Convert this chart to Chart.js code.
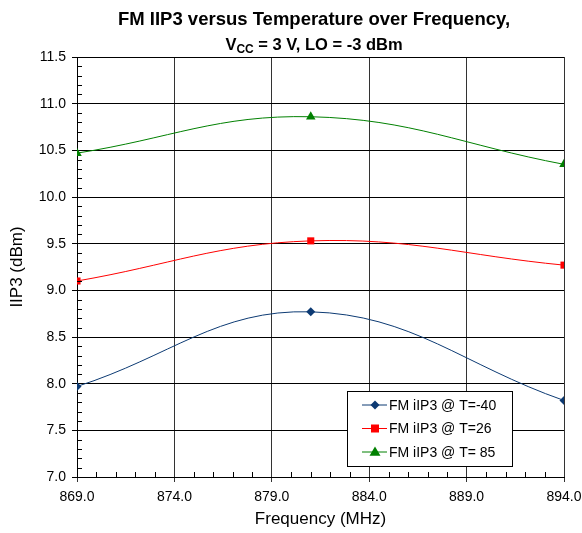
<!DOCTYPE html>
<html>
<head>
<meta charset="utf-8">
<script src="https://cdn.jsdelivr.net/npm/chart.js@4.4.0/dist/chart.umd.min.js"></script>
<style>
  html, body { margin: 0; padding: 0; background: #fff; }
  #wrap { width: 582px; height: 533px; position: relative; }
</style>
</head>
<body>
<div id="wrap"><canvas id="c" width="582" height="533"></canvas></div>
<script>
// frequencies (MHz) where the points were measured
const freqs = [869, 881, 894];
const iip3Cold = [7.97, 8.77, 7.82];   // T=-40
const iip3Room = [9.10, 9.53, 9.27];   // T=26
const iip3Hot = [10.47, 10.86, 10.35]; // T=85
const seriesNames = ['FM iIP3 @ T=-40', 'FM iIP3 @ T=26', 'FM iIP3 @ T= 85'];
const xTicks = [869, 874, 879, 884, 889, 894];

const FONT = 'Arial, "Liberation Sans", sans-serif';

let toXY = function (ys) {
  return freqs.map((f, i) => ({ x: f, y: ys[i] }));
};

// minor tick marks, drawn inside the plot area
const minorTicks = {
  id: 'minorTicks',
  afterDraw(chart) {
    const ctx = chart.ctx;
    const xs = chart.scales.x, ys = chart.scales.y;
    const a = chart.chartArea;
    ctx.save();
    ctx.strokeStyle = '#000';
    ctx.lineWidth = 1;
    ctx.beginPath();
    for (let f = 869; f <= 894; f++) {
      if ((f - 869) % 5 === 0) continue;
      const px = Math.round(xs.getPixelForValue(f)) + 0.5;
      ctx.moveTo(px, a.bottom);
      ctx.lineTo(px, a.bottom - 5);
    }
    for (let k = 70; k <= 115; k++) {
      if (k % 5 === 0) continue;
      const py = Math.round(ys.getPixelForValue(k / 10)) + 0.5;
      ctx.moveTo(a.left, py);
      ctx.lineTo(a.left + 5, py);
    }
    ctx.stroke();
    ctx.restore();
  }
};

// two-line title with subscript
const titlePlugin = {
  id: 'titlePlugin',
  afterDraw(chart) {
    const ctx = chart.ctx;
    const cx = 314;
    ctx.save();
    ctx.fillStyle = '#000';
    ctx.textBaseline = 'alphabetic';
    ctx.font = 'bold 18.5px ' + FONT;
    ctx.textAlign = 'center';
    ctx.fillText('FM IIP3 versus Temperature over Frequency,', cx, 25);

    const parts = [
      { t: 'V', f: 'bold 16.5px ' + FONT, dy: 0 },
      { t: 'CC', f: 'bold 12px ' + FONT, dy: 3 },
      { t: ' = 3 V, LO = -3 dBm', f: 'bold 16.5px ' + FONT, dy: 0 }
    ];
    let total = 0;
    parts.forEach(p => { ctx.font = p.f; p.w = ctx.measureText(p.t).width; total += p.w; });
    let x = cx - total / 2;
    ctx.textAlign = 'left';
    parts.forEach(p => {
      ctx.font = p.f;
      ctx.fillText(p.t, x, 50 + p.dy);
      x += p.w;
    });
    ctx.restore();
  }
};

// legend box in the lower right of the plot
const legendBox = {
  id: 'legendBox',
  afterDraw(chart) {
    const ctx = chart.ctx;
    const bx = 347, by = 391, bw = 165, bh = 75;
    ctx.save();
    ctx.fillStyle = '#fff';
    ctx.fillRect(bx, by, bw, bh);
    ctx.strokeStyle = '#000';
    ctx.lineWidth = 1;
    ctx.strokeRect(bx + 0.5, by + 0.5, bw, bh);
    chart.data.datasets.forEach((ds, i) => {
      const y = by + 14 + i * 23.5;
      ctx.strokeStyle = ds.borderColor;
      ctx.lineWidth = 1;
      ctx.beginPath();
      ctx.moveTo(362, y);
      ctx.lineTo(387, y);
      ctx.stroke();
      ctx.fillStyle = ds.pointBackgroundColor;
      ctx.beginPath();
      const mx = 375, r = ds.pointRadius;
      if (ds.pointStyle === 'rectRot') {
        ctx.moveTo(mx, y - r); ctx.lineTo(mx + r, y); ctx.lineTo(mx, y + r); ctx.lineTo(mx - r, y);
      } else if (ds.pointStyle === 'rect') {
        ctx.rect(mx - r * 0.8, y - r * 0.8, r * 1.6, r * 1.6);
      } else {
        ctx.moveTo(mx, y - r); ctx.lineTo(mx + r, y + r * 0.7); ctx.lineTo(mx - r, y + r * 0.7);
      }
      ctx.closePath();
      ctx.fill();
      ctx.fillStyle = '#000';
      ctx.font = '14px ' + FONT;
      ctx.textBaseline = 'middle';
      ctx.fillText(ds.label, 389, y + 1);
    });
    ctx.restore();
  }
};

const colors = ['#0c3a73', '#ff0000', '#008000'];
const styles = ['rectRot', 'rect', 'triangle'];
const radii = [4.5, 5, 5.5];
const values = [iip3Cold, iip3Room, iip3Hot];

new Chart(document.getElementById('c'), {
  type: 'line',
  data: {
    datasets: values.map((v, i) => ({
      label: seriesNames[i],
      data: toXY(v),
      borderColor: colors[i],
      backgroundColor: colors[i],
      pointBackgroundColor: colors[i],
      pointBorderColor: colors[i],
      pointStyle: styles[i],
      pointRadius: radii[i],
      pointBorderWidth: 0,
      borderWidth: 1,
      tension: 0.4,
      fill: false
    }))
  },
  options: {
    responsive: false,
    animation: false,
    layout: { padding: { top: 57, right: 18, bottom: 0, left: 0 } },
    plugins: {
      legend: { display: false },
      title: { display: false },
      tooltip: { enabled: false }
    },
    scales: {
      x: {
        type: 'linear',
        min: 869,
        max: 894,
        afterBuildTicks: s => { s.ticks = xTicks.map(v => ({ value: v })); },
        afterFit: s => { s.height = 56; s.paddingRight = 0; s.paddingLeft = 0; },
        ticks: {
          color: '#000',
          font: { size: 14, family: FONT },
          padding: 7,
          maxRotation: 0,
          callback: v => Number(v).toFixed(1)
        },
        grid: { color: '#333', lineWidth: 1, tickLength: 5, drawOnChartArea: true },
        border: { color: '#000', width: 1 },
        title: {
          display: true,
          text: 'Frequency (MHz)',
          color: '#000',
          font: { size: 17, family: FONT },
          padding: { top: 0, bottom: 3 }
        }
      },
      y: {
        min: 7,
        max: 11.5,
        afterFit: s => { s.width = 77; s.paddingTop = 0; s.paddingBottom = 0; },
        ticks: {
          stepSize: 0.5,
          color: '#000',
          font: { size: 14, family: FONT },
          padding: 6,
          callback: v => Number(v).toFixed(1)
        },
        grid: { color: '#000', lineWidth: 1, tickLength: 5 },
        border: { color: '#000', width: 1 },
        title: {
          display: true,
          text: 'IIP3 (dBm)',
          color: '#000',
          font: { size: 17, family: FONT },
          padding: { top: 7, bottom: 0 }
        }
      }
    }
  },
  plugins: [minorTicks, titlePlugin, legendBox]
});
</script>
</body>
</html>
